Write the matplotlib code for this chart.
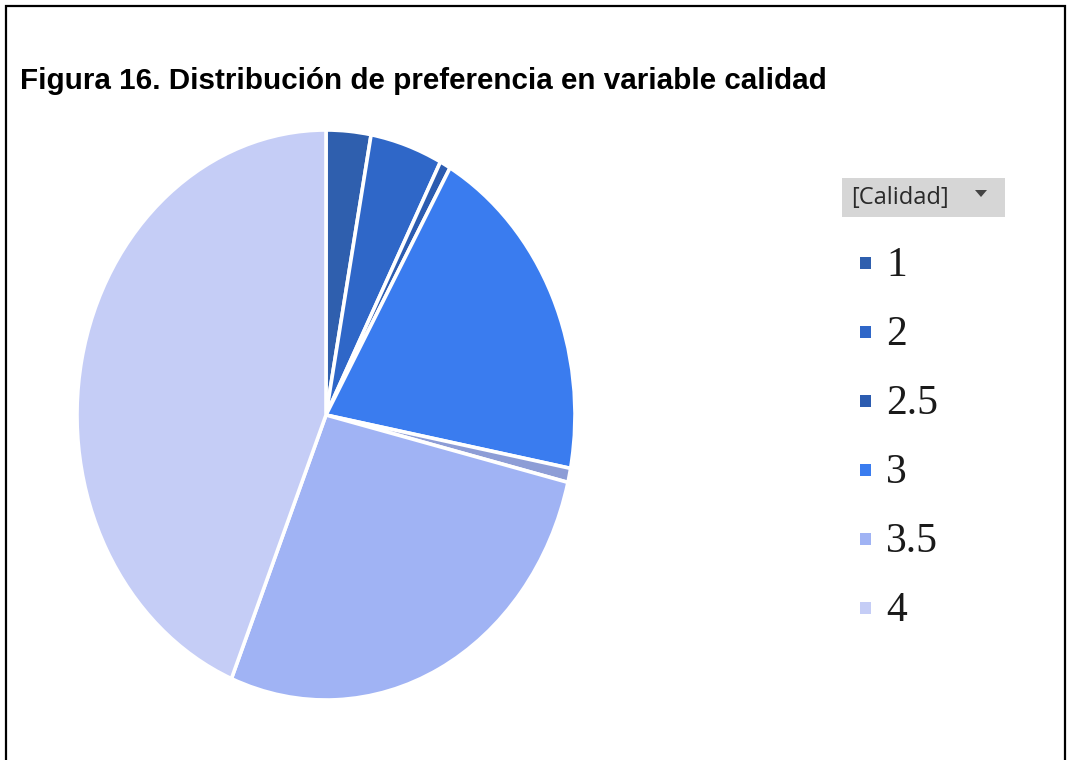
import matplotlib
matplotlib.use("Agg")
import matplotlib.pyplot as plt
from matplotlib.patches import Rectangle, Polygon

# Survey shares (%) for the "calidad" variable, clockwise from 12 o'clock
categories = ["1", "2", "2.5", "3", "", "3.5", "4"]
shares = [2.9, 4.7, 0.7, 19.7, 0.8, 27.4, 43.8]
colors = ["#2f5fae", "#2f67c8", "#2c5cb0", "#3a7cef", "#8d9dd6", "#a0b3f4", "#c5cdf6"]

title = "Figura 16. Distribución de preferencia en variable calidad"
legend_title = "[Calidad]"

W, H = 1072, 760
fig = plt.figure(figsize=(W / 100, H / 100), dpi=100)
fig.patch.set_facecolor("white")

# Overlay in pixel coordinates for frame, title and legend
ov = fig.add_axes([0, 0, 1, 1])
ov.set_xlim(0, W)
ov.set_ylim(H, 0)
ov.axis("off")

# Frame (top, left, right)
ov.plot([6, 6, 1065, 1065], [H, 6, 6, H], color="black", lw=1.6, solid_joinstyle="miter")

ov.text(20, 81, title, fontsize=21.3, fontweight="bold", family="Liberation Sans",
        ha="left", va="center", color="black")

# Pie, drawn in its own stretched axes (elliptical)
px0, py0, px1, py1 = 77, 130, 575, 700
pax = fig.add_axes([px0 / W, 1 - py1 / H, (px1 - px0) / W, (py1 - py0) / H])
wedges, _ = pax.pie(shares, colors=colors, startangle=90, counterclock=False,
                    radius=1.0, wedgeprops=dict(edgecolor="white", linewidth=2.6))
pax.set_aspect("auto")
pax.set_xlim(-1.0, 1.0)
pax.set_ylim(-1.0, 1.0)
pax.axis("off")

# Legend header box
ov.add_patch(Rectangle((842, 178), 163, 39, facecolor="#d6d6d6", edgecolor="none"))
ov.text(851, 198, legend_title, fontsize=17, family="Open Sans", color="#2a2a2a",
        ha="left", va="center")
ov.add_patch(Polygon([[975, 190], [987, 190], [981, 197]], closed=True,
                     facecolor="#444444", edgecolor="none"))

# Legend entries
y0, dy = 262, 69
row = 0
for lab, col in zip(categories, colors):
    if not lab:
        continue
    yc = y0 + dy * row
    ov.add_patch(Rectangle((860, yc - 5), 11, 12, facecolor=col, edgecolor="none"))
    ov.text(886, yc + 14, lab, fontsize=30, family="Liberation Serif",
            color="#1a1a1a", ha="left", va="baseline")
    row += 1

fig.savefig("out.png", dpi=100)
